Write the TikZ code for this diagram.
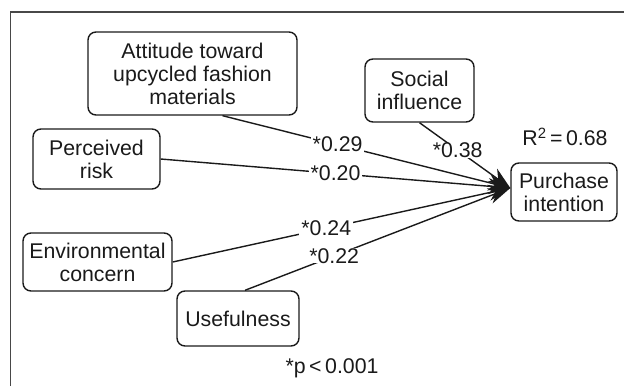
\documentclass[tikz,border=0pt]{standalone}
\usepackage{fontspec}
\setmainfont{Liberation Sans}
\usetikzlibrary{arrows.meta}
\definecolor{ink}{HTML}{1A1A1A}
\begin{document}
\begin{tikzpicture}[x=1pt,y=-1pt,
  every node/.style={text=ink},
  box/.style={draw=ink, line width=1.4pt, rounded corners=8pt, align=center,
    inner sep=0pt, font=\fontsize{21.3}{23}\selectfont},
  lbl/.style={fill=white, inner xsep=2pt, inner ysep=0pt, font=\fontsize{21.3}{23}\selectfont},
  path/.style={draw=ink, line width=1.4pt, -{Stealth[length=22pt,width=16pt]}}]
\useasboundingbox (0,0) rectangle (624,386);
\draw[draw=ink!80, line width=1.2pt] (10.5,386) -- (10.5,12) -- (624,12);
\node[box, minimum width=209pt, minimum height=83pt] (att) at (192.5,73.5) {Attitude toward\\upcycled fashion\\materials};
\node[box, minimum width=109pt, minimum height=63pt] (soc) at (419.5,90.5) {Social\\influence};
\node[box, minimum width=127pt, minimum height=60pt] (per) at (96.5,159) {Perceived\\risk};
\node[box, minimum width=106pt, minimum height=58pt] (pur) at (564,192) {Purchase\\intention};
\node[box, minimum width=149pt, minimum height=58pt] (env) at (97.5,262) {Environmental\\concern};
\node[box, minimum width=122pt, minimum height=55pt] (use) at (238,318.5) {Usefulness};
\node[font=\fontsize{21.3}{23}\selectfont] (r2) at (565,137) {R\textsuperscript{2}\,=\,0.68};
\node[font=\fontsize{21.3}{23}\selectfont] (pv) at (332,368) {*p\,<\,0.001};
\coordinate (tip) at ([yshift=4pt]pur.west);
\draw[path] ([xshift=30pt]att.south) -- node[lbl, pos=0.40] {*0.29} (tip);
\draw[path] (per.east) -- node[lbl, pos=0.50] {*0.20} (tip);
\draw[path] (soc.south) -- node[lbl, pos=0.42] {*0.38} (tip);
\draw[path] (env.east) -- node[lbl, pos=0.455] {*0.24} (tip);
\draw[path] ([xshift=7pt]use.north) -- node[lbl, pos=0.336] {*0.22} (tip);
\end{tikzpicture}
\end{document}
